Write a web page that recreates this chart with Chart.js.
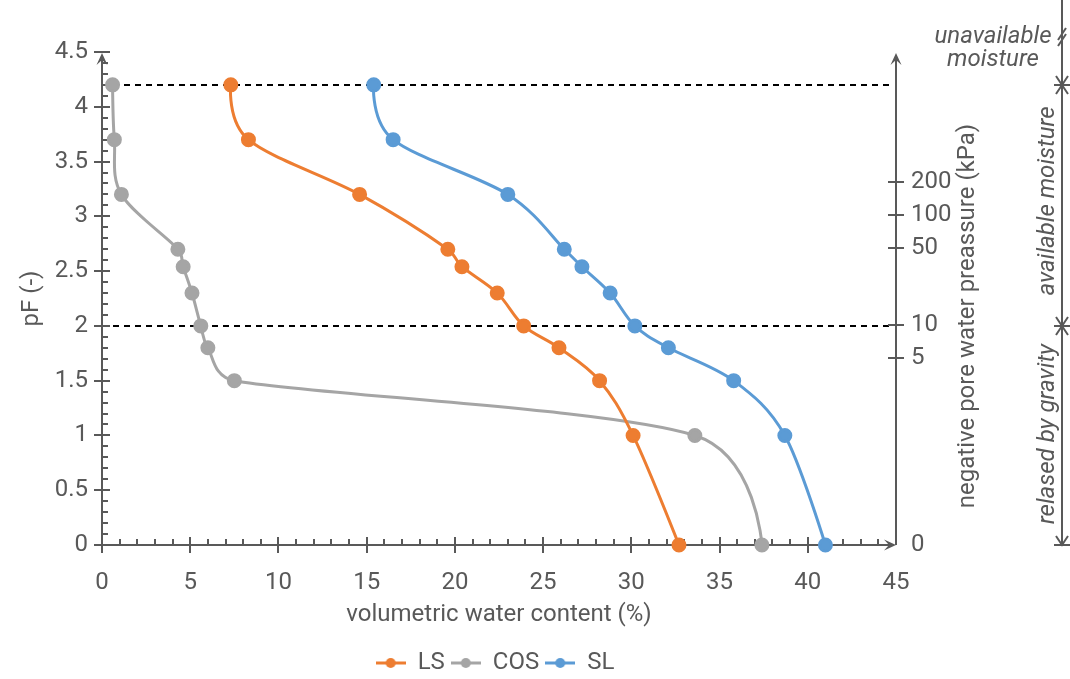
<!DOCTYPE html>
<html>
<head>
<meta charset="utf-8">
<script src="https://cdn.jsdelivr.net/npm/chart.js@4/dist/chart.umd.min.js"></script>
<style>
  html, body { margin: 0; padding: 0; background: #fff; }
  #wrap { width: 1070px; height: 679px; position: relative; }
</style>
</head>
<body>
<div id="wrap"><canvas id="myChart" width="1070" height="679"></canvas></div>
<script>
'use strict'
// pF levels where the samples were measured
let pfLevels = [4.2, 3.7, 3.2, 2.7, 2.54, 2.3, 2.0, 1.8, 1.5, 1.0, 0];
// volumetric water content (%) per soil
let lsValues = [7.3, 8.3, 14.6, 19.6, 20.4, 22.4, 23.9, 25.9, 28.2, 30.1, 32.7];
let cosValues = [0.6, 0.7, 1.1, 4.3, 4.6, 5.1, 5.6, 6.0, 7.5, 33.6, 37.4];
let slValues = [15.4, 16.5, 23.0, 26.2, 27.2, 28.8, 30.2, 32.1, 35.8, 38.7, 41.0];
let seriesNames = ['LS', 'COS', 'SL'];
let seriesColors = ['#ED7D31', '#A5A5A5', '#5B9BD5'];
// right axis labels (kPa) and reference lines (pF)
let kpaTicks = [0, 5, 10, 50, 100, 200];
let refLines = [4.2, 2.0];

let axisColor = '#595959';
let fontFam = "Roboto, 'Noto Sans', sans-serif";
let fs = 24;

function kpaToPf(k) {
    if (k === 0) return 0;
    return Math.log10(k * 10.197);
}

function makePoints(vals) {
    let pts = [];
    for (let i = 0; i < vals.length; i++) {
        pts.push({x: vals[i], y: pfLevels[i]});
    }
    return pts;
}

function legendIcon(color) {
    let c = document.createElement('canvas');
    c.width = 30; c.height = 12;
    let g = c.getContext('2d');
    g.strokeStyle = color; g.lineWidth = 3;
    g.beginPath(); g.moveTo(0, 6); g.lineTo(30, 6); g.stroke();
    g.fillStyle = color;
    g.beginPath(); g.arc(15, 6, 5, 0, Math.PI * 2); g.fill();
    return c;
}

let allVals = [lsValues, cosValues, slValues];
let icons = seriesColors.map(legendIcon);
let datasets = [];
for (let i = 0; i < seriesNames.length; i++) {
    datasets.push({
        label: seriesNames[i],
        data: makePoints(allVals[i]),
        borderColor: seriesColors[i],
        backgroundColor: seriesColors[i],
        pointStyle: 'circle',
        showLine: true,
        borderWidth: 3,
        pointRadius: 6,
        pointHoverRadius: 6,
        tension: 0.4,
        clip: false
    });
}

// excel-like smoothing: tangent (next - prev) / 6, capped at half the segment
function smoothLine(meta) {
    let pts = meta.data;
    let n = pts.length;
    for (let i = 0; i < n; i++) {
        let p = pts[i];
        p.cp1x = p.x; p.cp1y = p.y;
        p.cp2x = p.x; p.cp2y = p.y;
        if (i === 0 || i === n - 1) continue;
        let dx = (pts[i + 1].x - pts[i - 1].x) / 6;
        let dy = (pts[i + 1].y - pts[i - 1].y) / 6;
        let tl = Math.hypot(dx, dy) || 1;
        let segIn = Math.hypot(p.x - pts[i - 1].x, p.y - pts[i - 1].y) / 2;
        let segOut = Math.hypot(pts[i + 1].x - p.x, pts[i + 1].y - p.y) / 2;
        let fIn = Math.min(1, segIn / tl);
        let fOut = Math.min(1, segOut / tl);
        p.cp1x = p.x - dx * fIn; p.cp1y = p.y - dy * fIn;
        p.cp2x = p.x + dx * fOut; p.cp2y = p.y + dy * fOut;
    }
    if (meta.dataset) meta.dataset._pointsUpdated = true;
}

function arrowHead(ctx, tx, ty, dx, dy) {
    // filled chevron, tip at (tx,ty), pointing along (dx,dy)
    let len = 12, half = 5.5, notch = 7;
    let px = -dy, py = dx;
    ctx.beginPath();
    ctx.moveTo(tx, ty);
    ctx.lineTo(tx - dx * len + px * half, ty - dy * len + py * half);
    ctx.lineTo(tx - dx * notch, ty - dy * notch);
    ctx.lineTo(tx - dx * len - px * half, ty - dy * len - py * half);
    ctx.closePath();
    ctx.fill();
}

function openArrow(ctx, tx, ty, dir) {
    ctx.beginPath();
    ctx.moveTo(tx - 6, ty - dir * 9);
    ctx.lineTo(tx, ty);
    ctx.lineTo(tx + 6, ty - dir * 9);
    ctx.stroke();
}

function line(ctx, x1, y1, x2, y2) {
    ctx.beginPath(); ctx.moveTo(x1, y1); ctx.lineTo(x2, y2); ctx.stroke();
}

let axesPlugin = {
    id: 'axesPlugin',
    beforeDatasetsDraw(chart) {
        for (let i = 0; i < chart.data.datasets.length; i++) {
            smoothLine(chart.getDatasetMeta(i));
        }
        let ctx = chart.ctx;
        let a = chart.chartArea;
        let x = chart.scales.x, y = chart.scales.y;
        ctx.save();
        // dashed reference lines
        ctx.strokeStyle = '#000';
        ctx.lineWidth = 2;
        ctx.setLineDash([6, 5]);
        for (let r of refLines) {
            let py = Math.round(y.getPixelForValue(r));
            line(ctx, a.left, py, a.right - 4, py);
        }
        ctx.setLineDash([]);
        ctx.strokeStyle = axisColor;
        ctx.fillStyle = axisColor;
        ctx.lineWidth = 2;
        // left axis
        line(ctx, a.left, a.bottom, a.left, a.top + 4);
        arrowHead(ctx, a.left, a.top + 1, 0, -1);
        for (let i = 0; i <= 45; i++) {
            let v = i / 10;
            let py = Math.round(y.getPixelForValue(v));
            if (i % 5 === 0) line(ctx, a.left - 8, py, a.left + 8, py);
            else line(ctx, a.left, py, a.left + 6, py);
        }
        // x axis
        line(ctx, a.left, a.bottom, a.right - 4, a.bottom);
        arrowHead(ctx, a.right, a.bottom, 1, 0);
        for (let i = 0; i < 45; i++) {
            let px = Math.round(x.getPixelForValue(i));
            if (i % 5 === 0) line(ctx, px, a.bottom - 8, px, a.bottom + 8);
            else line(ctx, px, a.bottom - 6, px, a.bottom);
        }
        // right axis
        line(ctx, a.right, a.bottom, a.right, a.top + 4);
        arrowHead(ctx, a.right, a.top + 1, 0, -1);
        for (let k of kpaTicks) {
            if (k === 0) continue;
            let py = Math.round(y.getPixelForValue(kpaToPf(k)));
            line(ctx, a.right - 8, py, a.right + 8, py);
        }
        ctx.restore();
    },
    afterDraw(chart) {
        let ctx = chart.ctx;
        let y = chart.scales.y;
        let bx = 1062;
        let b1 = Math.round(y.getPixelForValue(refLines[0]));
        let b2 = Math.round(y.getPixelForValue(refLines[1]));
        let b3 = Math.round(y.getPixelForValue(0));
        ctx.save();
        // right axis title, reading upwards
        ctx.fillStyle = axisColor;
        ctx.font = fs + 'px ' + fontFam;
        ctx.textAlign = 'center';
        ctx.textBaseline = 'middle';
        ctx.save();
        ctx.translate(968, 316);
        ctx.rotate(-Math.PI / 2);
        ctx.fillText('negative pore water preassure (kPa)', 0, 0);
        ctx.restore();

        ctx.strokeStyle = axisColor;
        ctx.lineWidth = 2;
        line(ctx, bx, 0, bx, b3);
        // break mark
        line(ctx, bx - 4, 40, bx + 4, 28);
        line(ctx, bx - 4, 46, bx + 4, 34);
        for (let b of [b1, b2, b3]) {
            line(ctx, bx - 8, b, bx + 8, b);
        }
        openArrow(ctx, bx, b1, 1);
        openArrow(ctx, bx, b1, -1);
        openArrow(ctx, bx, b2, 1);
        openArrow(ctx, bx, b2, -1);
        openArrow(ctx, bx, b3, 1);
        // texts
        ctx.font = 'italic ' + fs + 'px ' + fontFam;
        ctx.fillText('unavailable', 993, 37);
        ctx.fillText('moisture', 993, 60);
        ctx.save();
        ctx.translate(1048, 201);
        ctx.rotate(-Math.PI / 2);
        ctx.fillText('available moisture', 0, 0);
        ctx.restore();
        ctx.translate(1048, 434);
        ctx.rotate(-Math.PI / 2);
        ctx.fillText('relased by gravity', 0, 0);
        ctx.restore();
    }
};

Chart.defaults.font.family = fontFam;
Chart.defaults.font.size = fs;
Chart.defaults.color = axisColor;

let ctx = document.getElementById('myChart').getContext('2d');
let myChart = new Chart(ctx, {
    type: 'scatter',
    data: { datasets: datasets },
    plugins: [axesPlugin],
    options: {
        responsive: false,
        animation: false,
        layout: { padding: { top: 52, right: 80, left: 0, bottom: -6 } },
        plugins: {
            tooltip: { enabled: false },
            legend: {
                position: 'bottom',
                labels: {
                    usePointStyle: true,
                    pointStyleWidth: 30,
                    padding: 6,
                    font: { size: fs },
                    color: axisColor,
                    generateLabels(chart) {
                        let items = Chart.defaults.plugins.legend.labels.generateLabels(chart);
                        items.forEach(it => { it.pointStyle = icons[it.datasetIndex]; });
                        return items;
                    }
                }
            }
        },
        scales: {
            x: {
                type: 'linear',
                min: 0, max: 45,
                grid: { display: false, drawTicks: false },
                border: { display: false },
                ticks: { stepSize: 5, padding: 24 },
                title: { display: true, text: 'volumetric water content (%)', padding: { top: 4, bottom: 16 } },
                afterFit(s) { s.height = 100; }
            },
            y: {
                type: 'linear',
                min: 0, max: 4.5,
                grid: { display: false, drawTicks: false },
                border: { display: false },
                ticks: {
                    stepSize: 0.5, padding: 14,
                    callback: v => String(+v.toFixed(1))
                },
                title: { display: true, text: 'pF (-)', padding: { top: 18, bottom: 0 } },
                afterFit(s) { s.width = 102; }
            },
            y2: {
                type: 'linear',
                position: 'right',
                min: 0, max: 4.5,
                grid: { display: false, drawTicks: false },
                border: { display: false },
                afterBuildTicks(s) {
                    s.ticks = kpaTicks.map(k => ({value: kpaToPf(k)}));
                },
                ticks: {
                    padding: 15,
                    callback: function(v, i) { return String(kpaTicks[i]); }
                },
                afterFit(s) { s.width = 94; }
            }
        }
    }
});
</script>
</body>
</html>
